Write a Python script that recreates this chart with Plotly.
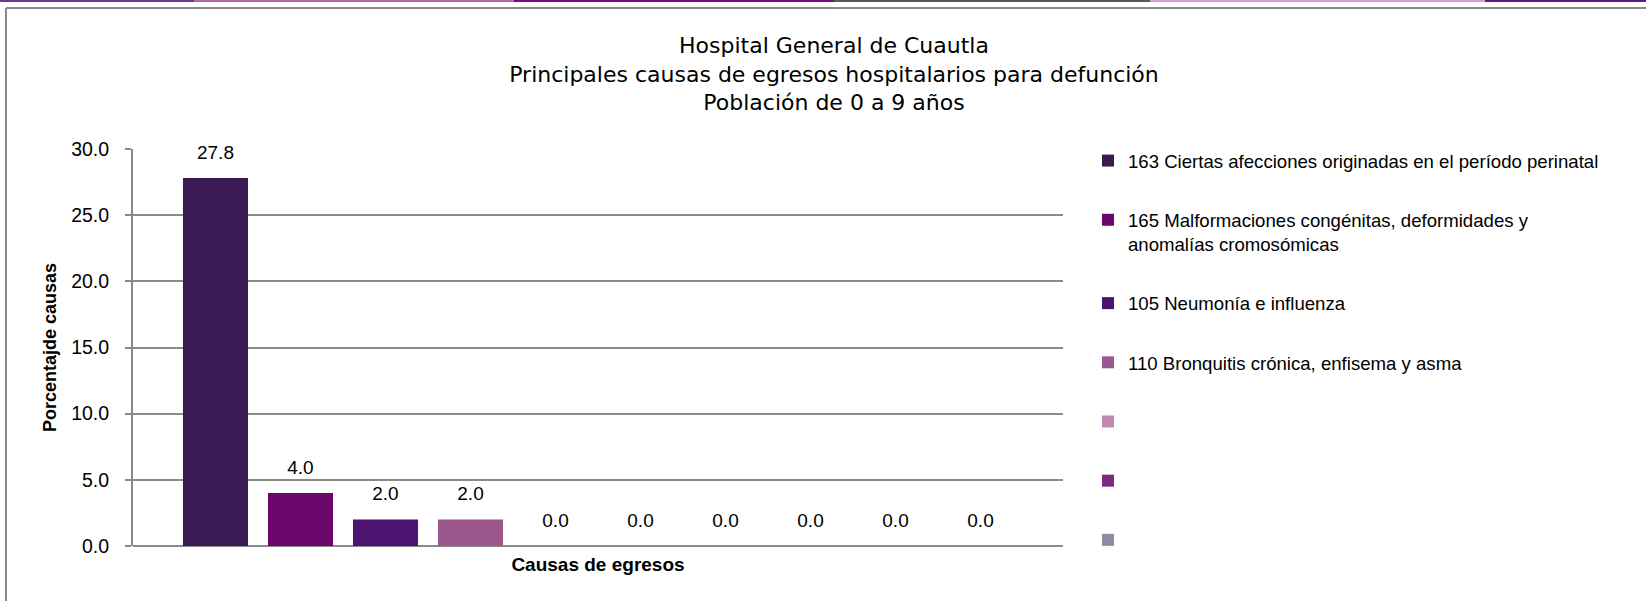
import plotly.graph_objects as go

# ---- data ----
category = ["Causas de egresos"]
series_names = [
    "163 Ciertas afecciones originadas en el período perinatal",
    "165 Malformaciones congénitas, deformidades y<br>anomalías cromosómicas",
    "105 Neumonía e influenza",
    "110 Bronquitis crónica, enfisema y asma",
    " ", " ", " ", " ", " ", " ",
]
values = [27.8, 4.0, 2.0, 2.0, 0.0, 0.0, 0.0, 0.0, 0.0, 0.0]
colors = ["#3A1A52", "#6B086D", "#4E1270", "#9B588C", "#C08AB4",
          "#7A2B7C", "#8E8AA3", "#5E4A86", "#A4679A", "#6A2D6E"]
legend_visible = [True, True, True, True, True, True, True, False, False, False]
title_lines = ["Hospital General de Cuautla",
               "Principales causas de egresos hospitalarios para defunción",
               "Población de 0 a 9 años"]
y_ticks = [0, 5, 10, 15, 20, 25, 30]

FONT = "Liberation Sans, Arial, sans-serif"
TFONT = "DejaVu Sans, Liberation Sans, sans-serif"
GRID = "#8A8A8A"

W, H = 1646, 601
L, R, T, B = 133, 583, 149, 55
PW, PH = W - L - R, H - T - B


def px_x(px):
    return (px - L) / PW


def px_y(py):
    return (H - B - py) / PH


fig = go.Figure()
for i, (name, v, c) in enumerate(zip(series_names, values, colors)):
    fig.add_trace(go.Bar(
        x=category, y=[v], name=name, marker=dict(color=c, line=dict(width=0)),
        offsetgroup=str(i), showlegend=legend_visible[i], legendgroup="g%d" % i,
        hoverinfo="skip",
    ))
# data labels, aligned with the grouped bars
for i, v in enumerate(values):
    fig.add_trace(go.Scatter(
        x=category, y=[v], mode="markers+text", text=[v],
        texttemplate="%{y:.1f}", textposition="top center",
        textfont=dict(family=FONT, size=19, color="black"),
        marker=dict(size=22, opacity=0, color="white"),
        offsetgroup=str(i), showlegend=False, cliponaxis=False,
        hoverinfo="skip",
    ))

shapes = []
# outer frame (left and top edges visible)
shapes.append(dict(type="line", xref="paper", yref="paper",
                   x0=px_x(6), x1=px_x(1660), y0=px_y(8), y1=px_y(8),
                   line=dict(color=GRID, width=2)))
shapes.append(dict(type="line", xref="paper", yref="paper",
                   x0=px_x(6), x1=px_x(6), y0=px_y(8), y1=px_y(620),
                   line=dict(color=GRID, width=2)))
# decorative coloured strip at the very top
strip = [(0, 194, "#6E3A8E"), (194, 514, "#B266A6"), (514, 834, "#80067F"),
         (834, 1150, "#595959"), (1150, 1485, "#D9A0CB"), (1485, 1646, "#5C1A82")]
for a, b, c in strip:
    shapes.append(dict(type="line", xref="paper", yref="paper",
                       x0=px_x(a), x1=px_x(b), y0=px_y(1), y1=px_y(1),
                       line=dict(color=c, width=2)))

fig.update_layout(
    width=W, height=H,
    margin=dict(l=L, r=R, t=T, b=B, autoexpand=False),
    paper_bgcolor="white", plot_bgcolor="white",
    font=dict(family=FONT, color="black"),
    barmode="group", bargap=0.086, bargroupgap=0.235,
    scattermode="group", scattergap=0.086,
    title=dict(text="<br>".join(title_lines), x=834 / W, xref="container",
               xanchor="center", y=1 - 53 / H, yref="container", yanchor="top",
               font=dict(family=TFONT, size=22, color="black")),
    showlegend=True,
    legend=dict(x=px_x(1088), xanchor="left", y=px_y(142), yanchor="top",
                font=dict(family=FONT, size=18.6, color="black"),
                tracegroupgap=32, valign="top", bgcolor="rgba(0,0,0,0)",
                itemclick=False, maxheight=600),
    shapes=shapes,
)
fig.update_xaxes(showticklabels=False, ticks="", showline=False, showgrid=False,
                 title=dict(text="<b>Causas de egresos</b>", standoff=11,
                            font=dict(family=FONT, size=19, color="black")))
fig.update_yaxes(range=[0, 30], tickvals=y_ticks, tickformat=".1f",
                 showgrid=True, gridcolor=GRID, gridwidth=2,
                 zeroline=True, zerolinecolor=GRID, zerolinewidth=2,
                 showline=True, linecolor=GRID, linewidth=2,
                 ticks="outside", ticklen=6, tickwidth=2, tickcolor=GRID,
                 ticklabelstandoff=12,
                 tickfont=dict(family=FONT, size=19.5, color="black"),
                 title=dict(text="<b>Porcentajde causas</b>", standoff=10,
                            font=dict(family=FONT, size=18, color="black")))

fig.write_html("out.html", config={"displayModeBar": False},
               post_script="document.body.style.margin='0';")
